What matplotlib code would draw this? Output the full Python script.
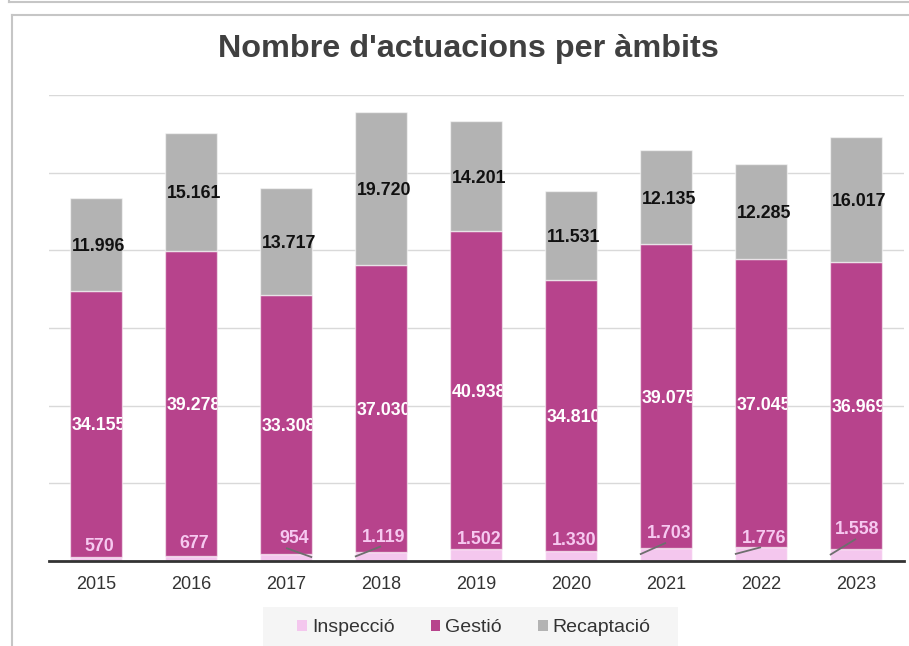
import numpy as np
import matplotlib
matplotlib.use("Agg")
import matplotlib.pyplot as plt
from matplotlib.patches import Patch, Rectangle
from matplotlib.lines import Line2D

plt.rcParams['font.family'] = ['Liberation Sans', 'DejaVu Sans']

# ---- data ----
years = ['2015', '2016', '2017', '2018', '2019', '2020', '2021', '2022', '2023']
inspeccio = [570, 677, 954, 1119, 1502, 1330, 1703, 1776, 1558]
gestio = [34155, 39278, 33308, 37030, 40938, 34810, 39075, 37045, 36969]
recaptacio = [11996, 15161, 13717, 19720, 14201, 11531, 12135, 12285, 16017]
series_names = ['Inspecció', 'Gestió', 'Recaptació']
title = "Nombre d'actuacions per àmbits"

# label placement tweaks (pixels) for the small Inspecció labels
insp_label_dx = [3, 3, 8, 2.5, 3, 3, 3, 3, 1]
insp_label_dy = [11.6, 14, 16.6, 17, 12, 12, 16, 11, 21]
insp_leader = [None, None, 'right', 'left', None, None, 'left', 'left', 'left']

# ---- style ----
c_insp = '#f4c7ee'
c_gest = '#b7438c'
c_recap = '#b3b3b3'
W, H = 909, 646
LABEL_FS = 12.8


def fx(px):
    return px / W


def fy(py):
    return 1 - py / H


fig = plt.figure(figsize=(W / 100, H / 100), dpi=100)
fig.patch.set_facecolor('white')

ax = fig.add_axes([fx(49), fy(561), (904 - 49) / W, (561 - 95) / H])
x = np.arange(len(years))
width = 0.55
ins = np.array(inspeccio)
ges = np.array(gestio)
rec = np.array(recaptacio)

edge = (1, 1, 1, 0.55)
b1 = ax.bar(x, ins, width, color=c_insp, edgecolor=edge, linewidth=1, zorder=2)
b2 = ax.bar(x, ges, width, bottom=ins, color=c_gest, edgecolor=edge, linewidth=1, zorder=2)
b3 = ax.bar(x, rec, width, bottom=ins + ges, color=c_recap, edgecolor=edge, linewidth=1, zorder=2)

ax.set_xlim(-0.495, len(years) - 0.495)
ax.set_ylim(0, 60000)
ax.set_yticks(np.arange(0, 60001, 10000))
ax.set_yticklabels([])
ax.yaxis.grid(True, color='#d9d9d9', linewidth=1)
ax.set_axisbelow(True)
ax.tick_params(axis='y', length=0)
ax.set_xticks(x)
ax.set_xticklabels(years, fontsize=13, color='#333333')
ax.tick_params(axis='x', length=0, pad=11)
for s in ['left', 'right', 'top']:
    ax.spines[s].set_visible(False)
ax.spines['bottom'].set_color('#333333')
ax.spines['bottom'].set_linewidth(2)
ax.spines['bottom'].set_zorder(5)
ax.set_facecolor('none')


def fmt(v):
    return f"{v:,}".replace(',', '.')


# Gestió labels (white, clipped to bar)
for i, (b, v) in enumerate(zip(b2, ges)):
    t = ax.annotate(fmt(v), xy=(i, ins[i] + v / 2), xytext=(3, 0), textcoords='offset pixels',
                    ha='center', va='center_baseline', fontsize=LABEL_FS, fontweight='bold',
                    color='white', zorder=4)
    t.set_clip_path(b)

# Recaptació labels (black)
for i, v in enumerate(rec):
    ax.annotate(fmt(v), xy=(i, ins[i] + ges[i] + v / 2), xytext=(3, 0), textcoords='offset pixels',
                ha='center', va='center_baseline', fontsize=LABEL_FS, fontweight='bold',
                color='#111111', zorder=4)

# Inspecció labels (pink) + leader lines
fig.canvas.draw()
inv = ax.transData.inverted()
for i, v in enumerate(ins):
    dx, dy = insp_label_dx[i], insp_label_dy[i]
    ax.annotate(fmt(v), xy=(i, v), xytext=(dx, dy), textcoords='offset pixels',
                ha='center', va='center_baseline', fontsize=LABEL_FS, fontweight='bold',
                color='#f6c9f0', zorder=4)
    if insp_leader[i] is not None:
        px, py = ax.transData.transform((i, v))
        sx, sy = inv.transform((px, py + dy - 11))
        ex = i + width / 2 if insp_leader[i] == 'right' else i - width / 2
        ax.plot([sx, ex], [sy, v / 2], color='#6e6e6e', linewidth=1.3, zorder=3,
                solid_capstyle='butt')

# title
fig.text(fx(468), fy(57.5), title, ha='center', va='baseline', fontsize=23.3,
         fontweight='bold', color='#404040')

# legend background + legend
fig.add_artist(Rectangle((fx(263), 0), (678 - 263) / W, (646 - 607) / H,
                         transform=fig.transFigure, facecolor='#f5f5f5',
                         edgecolor='none', zorder=0))
handles = [Patch(facecolor=c, edgecolor='none') for c in (c_insp, c_gest, c_recap)]
leg = fig.legend(handles, series_names, loc='center', bbox_to_anchor=(fx(474), fy(628)),
                 ncol=3, frameon=False, fontsize=14, handlelength=0.5, handleheight=0.5,
                 handletextpad=0.26, columnspacing=1.85, borderaxespad=0, borderpad=0)
for t in leg.get_texts():
    t.set_color('#333333')

# frame lines
frame_c = '#c6c6c6'
fig.add_artist(Line2D([fx(9), 1], [fy(1.5), fy(1.5)], transform=fig.transFigure,
                      color=frame_c, linewidth=1.5))
fig.add_artist(Line2D([fx(9), fx(9)], [fy(1.5), 1], transform=fig.transFigure,
                      color=frame_c, linewidth=1.5))
fig.add_artist(Line2D([fx(11.5), 1], [fy(14.5), fy(14.5)], transform=fig.transFigure,
                      color=frame_c, linewidth=1.5))
fig.add_artist(Line2D([fx(11.5), fx(11.5)], [fy(14.5), 0], transform=fig.transFigure,
                      color=frame_c, linewidth=1.5))

fig.savefig('out.png', dpi=100)
